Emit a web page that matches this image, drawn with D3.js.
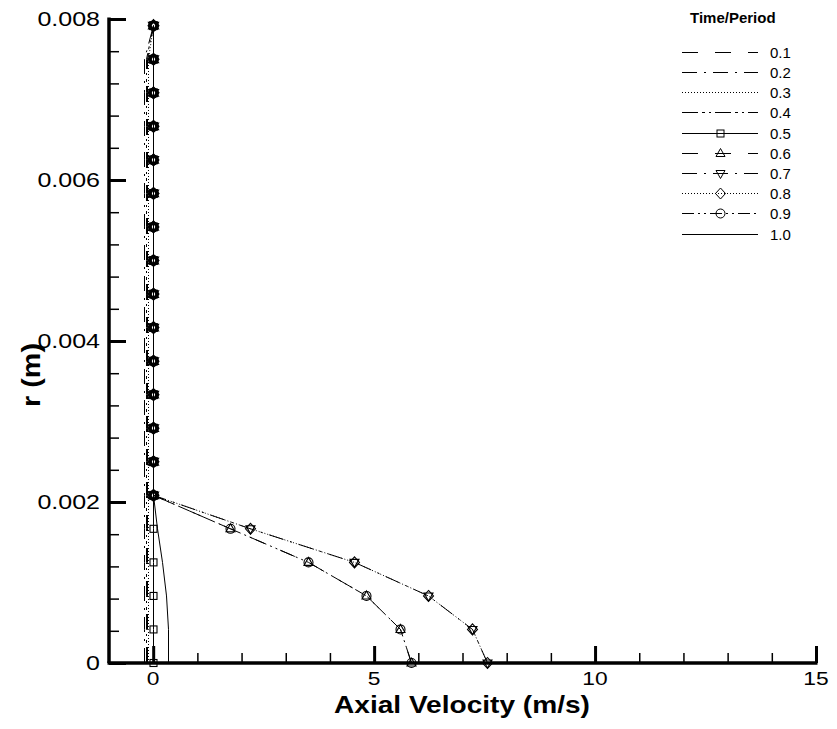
<!DOCTYPE html>
<html><head><meta charset="utf-8">
<script src="https://cdn.jsdelivr.net/npm/d3@7"></script>
<style>body{margin:0;background:#fff}svg{display:block}text{font-family:"Liberation Sans",Arial,sans-serif}</style>
</head><body><svg id="c" width="837" height="729"></svg>
<script>
const radius = [0, 0.000417, 0.000833, 0.00125, 0.001667, 0.002083, 0.0025, 0.002917, 0.003333, 0.00375, 0.004167, 0.004583, 0.005, 0.005417, 0.005833, 0.00625, 0.006667, 0.007083, 0.0075, 0.007917];
const periods = ["0.1","0.2","0.3","0.4","0.5","0.6","0.7","0.8","0.9","1.0"];
const v01 = [-0.14,-0.14,-0.14,-0.14,-0.14,-0.14,-0.14,-0.14,-0.14,-0.14,-0.14,-0.14,-0.14,-0.14,-0.14,-0.14,-0.14,-0.14,-0.14,0];
const v02 = [-0.20,-0.20,-0.20,-0.20,-0.20,-0.20,-0.20,-0.20,-0.20,-0.20,-0.20,-0.20,-0.20,-0.20,-0.20,-0.20,-0.20,-0.20,-0.20,0];
const v03 = [-0.12,-0.12,-0.12,-0.12,-0.12,-0.12,-0.12,-0.12,-0.12,-0.12,-0.12,-0.12,-0.12,-0.12,-0.12,-0.12,-0.12,-0.12,-0.12,0];
const v04 = [-0.17,-0.17,-0.17,-0.17,-0.17,-0.17,-0.17,-0.17,-0.17,-0.17,-0.17,-0.17,-0.17,-0.17,-0.17,-0.17,-0.17,-0.17,-0.17,0];
const v05 = [0,0,0,0,0,0,0,0,0,0,0,0,0,0,0,0,0,0,0,0];
const v06 = [5.84,5.59,4.82,3.51,1.74,0,0,0,0,0,0,0,0,0,0,0,0,0,0,0];
const v07 = [7.56,7.22,6.22,4.55,2.19,0,0,0,0,0,0,0,0,0,0,0,0,0,0,0];
const v08 = [7.56,7.22,6.22,4.55,2.19,0,0,0,0,0,0,0,0,0,0,0,0,0,0,0];
const v09 = [5.84,5.59,4.82,3.51,1.74,0,0,0,0,0,0,0,0,0,0,0,0,0,0,0];
const v10 = [0.345,0.345,0.28,0.19,0.09,0,0,0,0,0,0,0,0,0,0,0,0,0,0,0];
const xMajorTicks = [0,5,10,15];
const yMajorTicks = [0,0.002,0.004,0.006,0.008];
const yTickLabels = ["0","0.002","0.004","0.006","0.008"];
const xTickLabels = ["0","5","10","15"];

const seriesValues = [v01,v02,v03,v04,v05,v06,v07,v08,v09,v10];
const dashes = ["16,17","15,7,2,7","1,2","16,4,3,4,2,4",null,"16,17","15,7,2,7","1,2","12,4,2,4,2,4",null];
const markers = [null,null,null,null,"square","tri","itri","diamond","circle",null];

const svg = d3.select("#c");
const x = d3.scaleLinear().domain([-1,15]).range([109,816]);
const y = d3.scaleLinear().domain([0,0.008]).range([663,19]);

function stretch(sel, f){ sel.each(function(){ const w=this.getComputedTextLength(); d3.select(this).attr("textLength", w*f).attr("lengthAdjust","spacingAndGlyphs"); }); }

const line = d3.line().x(d=>Math.round(x(d[0]))+0.5).y(d=>y(d[1]));
const plot = svg.append("g");
seriesValues.forEach((vals,i)=>{
  const pts = vals.map((v,j)=>[v, radius[j]]);
  plot.append("path").attr("d", line(pts)).attr("fill","none").attr("stroke","#000")
    .attr("stroke-width",1).attr("stroke-dasharray", dashes[i]);
});
function marker(g, type, cx, cy, sw){
  const s = 4;
  let el;
  if(type==="square") el = g.append("rect").attr("x",cx-3.5).attr("y",cy-3.5).attr("width",7).attr("height",7);
  else if(type==="circle") el = g.append("circle").attr("cx",cx).attr("cy",cy).attr("r",4.5);
  else if(type==="tri") el = g.append("path").attr("d",`M${cx},${cy-s-1}L${cx+s+0.5},${cy+s-1}L${cx-s-0.5},${cy+s-1}Z`);
  else if(type==="itri") el = g.append("path").attr("d",`M${cx},${cy+s+1}L${cx+s+0.5},${cy-s+1}L${cx-s-0.5},${cy-s+1}Z`);
  else if(type==="diamond") el = g.append("path").attr("d",`M${cx},${cy-5.5}L${cx+5},${cy}L${cx},${cy+5.5}L${cx-5},${cy}Z`);
  el.attr("fill","none").attr("stroke","#000").attr("stroke-width",sw||1.3);
}
seriesValues.forEach((vals,i)=>{
  if(!markers[i]) return;
  vals.forEach((v,j)=> marker(plot, markers[i], Math.round(x(v))+0.5, y(radius[j]), v===0 && j>=5 ? 1.8 : 1.1));
});

// axes
const xAxisG = svg.append("g").attr("transform",`translate(0,${y(0)})`);
xAxisG.call(d3.axisBottom(x).tickValues(d3.range(0,16,1).filter(d=>d%5!==0)).tickSize(-10).tickFormat(""))
  .call(g=>g.selectAll(".tick line").attr("stroke-width",1.5));
xAxisG.select(".domain").remove();
const xMaj = svg.append("g").attr("transform",`translate(0,${y(0)})`);
xMaj.call(d3.axisBottom(x).tickValues(xMajorTicks).tickSize(-17).tickFormat(""))
  .call(g=>g.selectAll(".tick line").attr("stroke-width",3));
xMaj.select(".domain").remove();

const yAxisG = svg.append("g").attr("transform",`translate(${x(-1)},0)`);
yAxisG.call(d3.axisLeft(y).tickValues(d3.range(1,20).filter(d=>d%5!==0).map(d=>d*0.0004)).tickSize(-10).tickFormat(""))
  .call(g=>g.selectAll(".tick line").attr("stroke-width",1.5));
yAxisG.select(".domain").remove();
const yMaj = svg.append("g").attr("transform",`translate(${x(-1)},0)`);
yMaj.call(d3.axisLeft(y).tickValues(yMajorTicks).tickSize(-17).tickFormat(""))
  .call(g=>g.selectAll(".tick line").attr("stroke-width",3));
yMaj.select(".domain").remove();

svg.append("line").attr("x1",x(-1)-1.5).attr("x2",x(15)+1.5).attr("y1",y(0)).attr("y2",y(0)).attr("stroke","#000").attr("stroke-width",3.5);
svg.append("line").attr("x1",x(-1)).attr("x2",x(-1)).attr("y1",y(0)).attr("y2",y(0.008)-1.5).attr("stroke","#000").attr("stroke-width",3.5);

// tick labels
const yl = svg.append("g").selectAll("text").data(yMajorTicks).join("text")
  .attr("x",100).attr("y",d=>y(d)+7).attr("text-anchor","end").attr("font-size",20)
  .text((d,i)=>yTickLabels[i]);
stretch(yl,1.25);
const xl = svg.append("g").selectAll("text").data(xMajorTicks).join("text")
  .attr("x",d=>x(d)).attr("y",685).attr("text-anchor","middle").attr("font-size",19)
  .text((d,i)=>xTickLabels[i]);
stretch(xl,1.2);

// axis titles
const xt = svg.append("text").attr("x",462).attr("y",713).attr("text-anchor","middle")
  .attr("font-size",24).attr("font-weight","bold").text("Axial Velocity (m/s)");
stretch(xt,1.17);
const yt = svg.append("text").attr("transform","translate(40,375) rotate(-90)").attr("text-anchor","middle")
  .attr("font-size",25).attr("font-weight","bold").text("r (m)");
stretch(yt,1.15);

// legend
const lg = svg.append("g");
lg.append("text").attr("x",690).attr("y",23).attr("font-size",15).attr("font-weight","bold").text("Time/Period");
periods.forEach((p,i)=>{
  const ly = Math.round(51.7 + i*20.2) + 0.5;
  lg.append("line").attr("x1",682).attr("x2",758).attr("y1",ly).attr("y2",ly)
    .attr("stroke","#000").attr("stroke-width",1).attr("stroke-dasharray",dashes[i]);
  if(markers[i]) marker(lg, markers[i], 720.5, ly, 1);
  lg.append("text").attr("x",770).attr("y",ly+5).attr("font-size",15).text(p);
});
</script></body></html>
